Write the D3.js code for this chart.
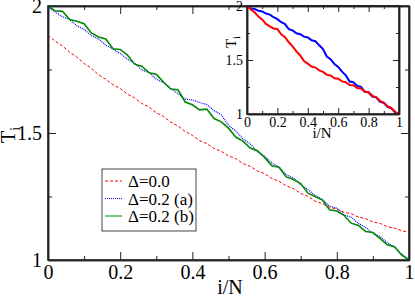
<!DOCTYPE html>
<html>
<head>
<meta charset="utf-8">
<script src="https://cdn.jsdelivr.net/npm/d3@7"></script>
</head>
<body style="margin:0">
<div id="chart"></div>
<script>

var SERIF = "'Liberation Serif'";

// main panel: x positions (i/N) shared by all three series
var mainX = [0, 0.02, 0.04, 0.06, 0.08, 0.10, 0.12, 0.14, 0.16, 0.18,
             0.20, 0.22, 0.24, 0.26, 0.28, 0.30, 0.32, 0.34, 0.36, 0.38,
             0.40, 0.42, 0.44, 0.46, 0.48, 0.50, 0.52, 0.54, 0.56, 0.58,
             0.60, 0.62, 0.64, 0.66, 0.68, 0.70, 0.72, 0.74, 0.76, 0.78,
             0.80, 0.82, 0.84, 0.86, 0.88, 0.90, 0.92, 0.94, 0.96, 0.98, 1.00];

// Δ=0.0
var delta00 = [1.885, 1.861, 1.843, 1.818, 1.799, 1.774, 1.755, 1.729, 1.712, 1.690,
               1.675, 1.653, 1.638, 1.616, 1.602, 1.579, 1.565, 1.543, 1.528, 1.506,
               1.491, 1.470, 1.458, 1.439, 1.428, 1.410, 1.399, 1.380, 1.369, 1.351,
               1.340, 1.321, 1.310, 1.292, 1.281, 1.262, 1.251, 1.232, 1.222, 1.207,
               1.201, 1.188, 1.182, 1.169, 1.163, 1.150, 1.144, 1.131, 1.126, 1.115, 1.110];

// Δ=0.2 (a)
var delta02a = [1.995, 1.976, 1.958, 1.946, 1.922, 1.908, 1.884, 1.870, 1.846, 1.830,
                1.813, 1.790, 1.774, 1.748, 1.738, 1.712, 1.698, 1.676, 1.655, 1.634,
                1.630, 1.620, 1.612, 1.588, 1.572, 1.530, 1.508, 1.476, 1.458, 1.426,
                1.408, 1.382, 1.366, 1.336, 1.323, 1.296, 1.277, 1.254, 1.238, 1.212,
                1.204, 1.178, 1.168, 1.144, 1.128, 1.106, 1.092, 1.068, 1.050, 1.022, 1.002];

// Δ=0.2 (b)
var delta02b = [2.000, 1.981, 1.979, 1.947, 1.940, 1.930, 1.894, 1.878, 1.870, 1.832,
                1.829, 1.807, 1.771, 1.763, 1.737, 1.731, 1.701, 1.673, 1.670, 1.622,
                1.611, 1.591, 1.594, 1.557, 1.544, 1.519, 1.484, 1.468, 1.441, 1.430,
                1.404, 1.371, 1.365, 1.327, 1.317, 1.301, 1.263, 1.250, 1.236, 1.198,
                1.193, 1.176, 1.145, 1.136, 1.112, 1.108, 1.084, 1.060, 1.052, 1.019, 1.000];

// inset panel
var insetX = [0, 0.025, 0.05, 0.075, 0.1, 0.125, 0.15, 0.175, 0.2, 0.225,
              0.25, 0.275, 0.3, 0.325, 0.35, 0.375, 0.4, 0.425, 0.45, 0.475,
              0.5, 0.525, 0.55, 0.575, 0.6, 0.625, 0.65, 0.675, 0.7, 0.725,
              0.75, 0.775, 0.8, 0.825, 0.85, 0.875, 0.9, 0.925, 0.95, 0.975, 1];

var insetBlue = [2.000, 1.978, 1.972, 1.956, 1.950, 1.930, 1.920, 1.896, 1.878, 1.850,
                 1.832, 1.786, 1.774, 1.748, 1.739, 1.716, 1.708, 1.682, 1.674, 1.636,
                 1.602, 1.532, 1.508, 1.462, 1.436, 1.392, 1.358, 1.300, 1.294, 1.260,
                 1.251, 1.206, 1.201, 1.162, 1.154, 1.112, 1.104, 1.066, 1.052, 1.012, 1.000];

var insetRed = [2.000, 1.968, 1.942, 1.902, 1.876, 1.834, 1.812, 1.792, 1.786, 1.738,
                1.712, 1.664, 1.626, 1.580, 1.542, 1.490, 1.466, 1.440, 1.430, 1.404,
                1.390, 1.362, 1.356, 1.330, 1.326, 1.302, 1.294, 1.268, 1.266, 1.241,
                1.236, 1.208, 1.200, 1.168, 1.154, 1.122, 1.104, 1.072, 1.054, 1.020, 1.000];

var xMajor = [0, 0.2, 0.4, 0.6, 0.8, 1];
var xMinor = [0.1, 0.3, 0.5, 0.7, 0.9];
var yMajor = [1, 1.5, 2];
var yMinor = [1.25, 1.75];
var legendLabels = ["\u0394=0.0", "\u0394=0.2 (a)", "\u0394=0.2 (b)"];

var W = 415, H = 297;
var svg = d3.select("#chart").append("svg")
    .attr("width", W)
    .attr("height", H);

var tickFmt = function(d) { return String(d); };

// draws a framed panel with inward ticks on all four sides
function frame(g, x, y, fs, majLen, minLen, pad) {
  var y0 = y.range()[0], y1 = y.range()[1], x0 = x.range()[0], x1 = x.range()[1];

  g.append("rect")
      .attr("x", x0).attr("y", y1)
      .attr("width", x1 - x0).attr("height", y0 - y1)
      .attr("fill", "#fff");

  function ax(sel, tr) {
    var a = g.append("g").attr("transform", tr).call(sel);
    a.attr("font-family", null).attr("font-size", null);
    a.selectAll("text").style("font-size", fs + "px");
    return a;
  }

  // bottom
  ax(d3.axisBottom(x).tickValues(xMajor).tickSize(-majLen).tickSizeOuter(0)
        .tickPadding(pad).tickFormat(tickFmt), "translate(0," + y0 + ")");
  ax(d3.axisBottom(x).tickValues(xMinor).tickSize(-minLen).tickSizeOuter(0).tickFormat(""),
     "translate(0," + y0 + ")");
  // top
  ax(d3.axisTop(x).tickValues(xMajor).tickSize(-majLen).tickSizeOuter(0).tickFormat(""),
     "translate(0," + y1 + ")");
  ax(d3.axisTop(x).tickValues(xMinor).tickSize(-minLen).tickSizeOuter(0).tickFormat(""),
     "translate(0," + y1 + ")");
  // left
  ax(d3.axisLeft(y).tickValues(yMajor).tickSize(-majLen).tickSizeOuter(0)
        .tickPadding(pad + 1).tickFormat(tickFmt), "translate(" + x0 + ",0)");
  ax(d3.axisLeft(y).tickValues(yMinor).tickSize(-minLen).tickSizeOuter(0).tickFormat(""),
     "translate(" + x0 + ",0)");
  // right
  ax(d3.axisRight(y).tickValues(yMajor).tickSize(-majLen).tickSizeOuter(0).tickFormat(""),
     "translate(" + x1 + ",0)");
  ax(d3.axisRight(y).tickValues(yMinor).tickSize(-minLen).tickSizeOuter(0).tickFormat(""),
     "translate(" + x1 + ",0)");

  g.selectAll("line").attr("stroke", "#222");
  g.selectAll("path.domain").attr("stroke", "#222").attr("stroke-width", 1.5);
}

// ---------- main panel ----------
var x = d3.scaleLinear().domain([0, 1]).range([48, 409]);
var y = d3.scaleLinear().domain([1, 2]).range([260, 6]);

var main = svg.append("g");
frame(main, x, y, 20, 8, 4, 5);

var line = d3.line()
    .x(function(d) { return x(d[0]); })
    .y(function(d) { return y(d[1]); });

var series = [
  {vals: delta00,  color: "#ff0000", width: 1,   dash: "3,2"},
  {vals: delta02a, color: "#0000ff", width: 1.2, dash: "1,1"},
  {vals: delta02b, color: "#008b00", width: 1.6, dash: null}
];

series.forEach(function(s) {
  main.append("path")
      .datum(d3.zip(mainX, s.vals))
      .attr("fill", "none")
      .attr("stroke", s.color)
      .attr("stroke-width", s.width)
      .attr("stroke-dasharray", s.dash)
      .attr("d", line);
});

// frame lines on top of the curves
main.append("rect")
    .attr("x", 48).attr("y", 6).attr("width", 361).attr("height", 254)
    .attr("fill", "none").attr("stroke", "#222").attr("stroke-width", 1.5);

main.append("text")
    .attr("x", 230).attr("y", 294)
    .attr("text-anchor", "middle")
    .style("font-size", "20px")
    .text("i/N");

var yl = main.append("text")
    .attr("transform", "translate(15,135) rotate(-90)")
    .attr("text-anchor", "middle")
    .style("font-size", "20px");
yl.append("tspan").text("T");
yl.append("tspan").attr("dy", 5).style("font-size", "14px").text("i");

// legend
var lg = main.append("g");
lg.append("rect")
    .attr("x", 102).attr("y", 169).attr("width", 94).attr("height", 62)
    .attr("fill", "#fff").attr("stroke", "#444").attr("stroke-width", 1);

series.forEach(function(s, i) {
  var cy = 181 + i * 17.5;
  lg.append("line")
      .attr("x1", 105).attr("x2", 122).attr("y1", cy).attr("y2", cy)
      .attr("stroke", s.color)
      .attr("stroke-width", 1)
      .attr("stroke-dasharray", s.dash);
  lg.append("text")
      .attr("x", 128).attr("y", cy + 6)
      .style("font-size", "17px")
      .text(legendLabels[i]);
});

// ---------- inset ----------
var xi = d3.scaleLinear().domain([0, 1]).range([247, 399]);
var yi = d3.scaleLinear().domain([1, 2]).range([114, 6]);

var inset = svg.append("g");
frame(inset, xi, yi, 14, 6, 3, 3);

var lineI = d3.line()
    .x(function(d) { return xi(d[0]); })
    .y(function(d) { return yi(d[1]); });

inset.append("path")
    .datum(d3.zip(insetX, insetBlue))
    .attr("fill", "none").attr("stroke", "#0000ff").attr("stroke-width", 2)
    .attr("d", lineI);
inset.append("path")
    .datum(d3.zip(insetX, insetRed))
    .attr("fill", "none").attr("stroke", "#ff0000").attr("stroke-width", 2)
    .attr("d", lineI);

inset.append("rect")
    .attr("x", 247).attr("y", 6).attr("width", 152).attr("height", 108)
    .attr("fill", "none").attr("stroke", "#222").attr("stroke-width", 1.5);

inset.append("text")
    .attr("x", 322).attr("y", 138)
    .attr("text-anchor", "middle")
    .style("font-size", "15px")
    .text("i/N");

var yli = inset.append("text")
    .attr("transform", "translate(236,42) rotate(-90)")
    .attr("text-anchor", "middle")
    .style("font-size", "15px");
yli.append("tspan").text("T");
yli.append("tspan").attr("dy", 4).style("font-size", "11px").text("i");

// every label in the Times-like serif
svg.selectAll("text").style("font-family", SERIF).style("fill", "#000");

</script>
</body>
</html>
